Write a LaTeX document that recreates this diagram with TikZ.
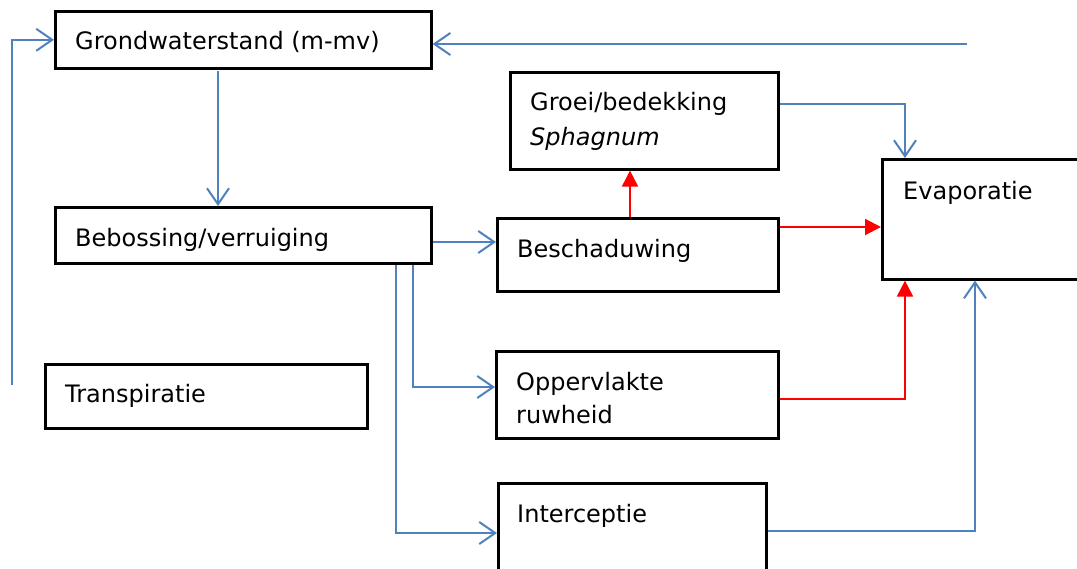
\documentclass[tikz,border=0pt]{standalone}
\usepackage{fontspec}
\setmainfont{DejaVu Sans}
\usetikzlibrary{arrows.meta}
\definecolor{lblue}{RGB}{79,129,189}
\definecolor{lred}{RGB}{255,0,0}
\tikzset{
  box/.style={draw=black, line width=2.6pt, rectangle, anchor=north west, inner sep=0pt},
  txt/.style={anchor=base west, inner sep=0pt, font=\fontsize{24}{28}\selectfont},
  bl/.style={draw=lblue, line width=2pt, -{Straight Barb[length=16pt, width=22pt, line width=2pt]}},
  rd/.style={draw=lred, line width=2pt, -{Triangle[length=16pt, width=16pt]}},
}
\begin{document}
\begin{tikzpicture}[x=1pt, y=-1pt]
\useasboundingbox (0,0) rectangle (1077,568);
% boxes
\node[box, minimum width=376pt, minimum height=57pt] (gw) at (54,10) {};
\node[box, minimum width=376pt, minimum height=56pt] (beb) at (54,206) {};
\node[box, minimum width=268pt, minimum height=97pt] (gro) at (509,71) {};
\node[box, minimum width=281pt, minimum height=73pt] (sch) at (496,217) {};
\node[box, minimum width=200pt, minimum height=120pt] (eva) at (881,158) {};
\node[box, minimum width=282pt, minimum height=87pt] (opp) at (495,350) {};
\node[box, minimum width=322pt, minimum height=64pt] (tra) at (44,363) {};
\node[box, minimum width=268pt, minimum height=100pt] (int) at (497,482) {};
% texts
\node[txt] (tgw) at (75,49) {Grondwaterstand (m-mv)};
\node[txt] (tbeb) at (75,246) {Bebossing/verruiging};
\node[txt] (tgro1) at (530,110) {Groei/bedekking};
\node[txt] (tgro2) at (530,145) {\itshape Sphagnum};
\node[txt] (tsch) at (517,257) {Beschaduwing};
\node[txt] (teva) at (903,199) {Evaporatie};
\node[txt] (topp1) at (516,390) {Oppervlakte};
\node[txt] (topp2) at (516,423) {ruwheid};
\node[txt] (ttra) at (65,402) {Transpiratie};
\node[txt] (tint) at (517,522) {Interceptie};
% connectors
\coordinate (loopstart) at (12,385);
\coordinate (topright) at (967,44);
\draw[bl] (loopstart) |- (gw.west);
\draw[bl] (topright) -- (gw.east |- topright);
\draw[bl] (218,71) -- (218,0 |- beb.north);
\draw[bl] (beb.east |- 0,242) -- (sch.west |- 0,242);
\draw[bl] (413,0 |- beb.south) |- (opp.west |- 0,387);
\draw[bl] (396,0 |- beb.south) |- (int.west |- 0,533);
\draw[bl] (gro.east |- 0,104) -| (905,0 |- eva.north);
\draw[bl] (int.east |- 0,531) -| (975,0 |- eva.south);
\draw[rd] (630,0 |- sch.north) -- (630,0 |- gro.south);
\draw[rd] (sch.east |- 0,227) -- (eva.west |- 0,227);
\draw[rd] (opp.east |- 0,399) -| (905,0 |- eva.south);
\end{tikzpicture}
\end{document}
